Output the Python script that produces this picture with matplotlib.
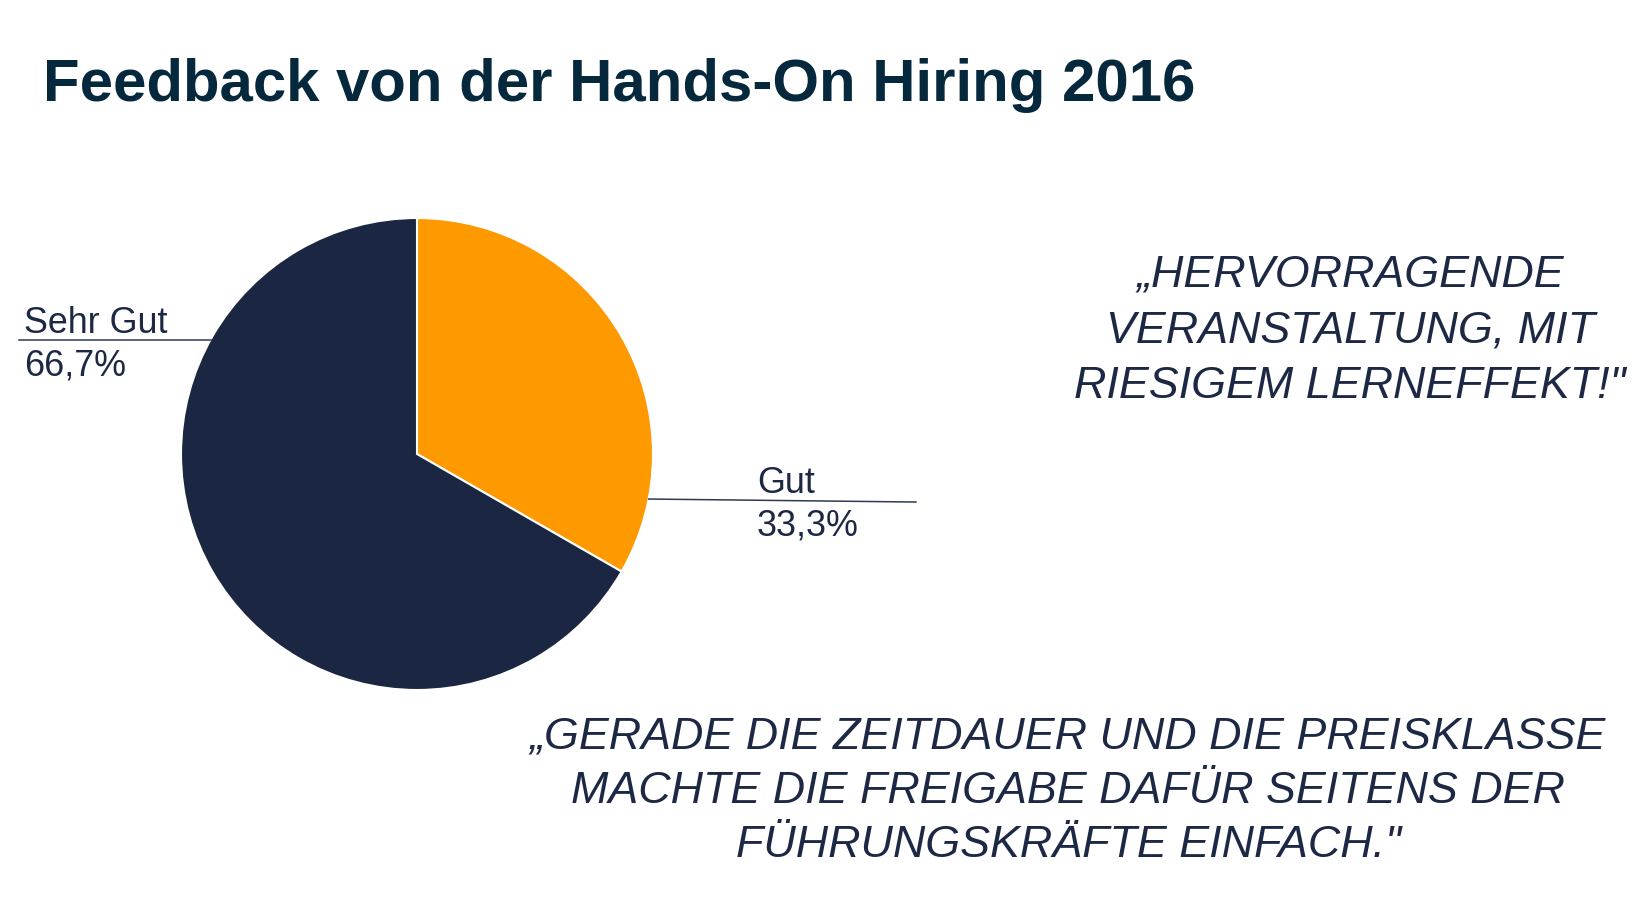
import numpy as np
import matplotlib
matplotlib.use('Agg')
import matplotlib.pyplot as plt

plt.rcParams['font.family'] = ['Liberation Sans', 'DejaVu Sans']

# Data
categories = ['Gut', 'Sehr Gut']
shares = [33.3, 66.7]
share_labels = ['33,3%', '66,7%']
colors = ['#FF9900', '#1B2742']

title = 'Feedback von der Hands-On Hiring 2016'
quote_1 = ['\u201eHERVORRAGENDE', 'VERANSTALTUNG, MIT', 'RIESIGEM LERNEFFEKT!"']
quote_2 = ['\u201eGERADE DIE ZEITDAUER UND DIE PREISKLASSE',
           'MACHTE DIE FREIGABE DAF\u00dcR SEITENS DER',
           'F\u00dcHRUNGSKR\u00c4FTE EINFACH."']

W, H = 1647, 898
fig = plt.figure(figsize=(W / 100, H / 100), dpi=100)
ax = fig.add_axes([0, 0, 1, 1])

# pie geometry in pixel units (y measured from bottom)
cx, cy, r = 417, 444, 236
ax.pie(shares, colors=colors, startangle=90, counterclock=False,
       center=(cx, cy), radius=r,
       wedgeprops={'edgecolor': 'white', 'linewidth': 1.5})
ax.set_xlim(0, W)
ax.set_ylim(0, H)
ax.set_aspect('equal')
ax.axis('off')

text_col = '#1C2844'

# leader lines and labels
label_specs = {
    # category: (angle on pie edge, line end x, line end y offset, text x, baseline of first line)
    'Sehr Gut': (151, 19, 0, 24, 565),
    'Gut': (-11, 916, -3, 757, 405),
}
for cat, lab in zip(categories, share_labels):
    ang, x_end, dy, tx, ty = label_specs[cat]
    a = np.deg2rad(ang)
    x0, y0 = cx + r * np.cos(a), cy + r * np.sin(a)
    ax.plot([x0, x_end], [y0, y0 + dy], color='#2E3A55', lw=1.1)
    ax.text(tx, ty, cat, fontsize=25.8, color=text_col, va='baseline', ha='left')
    ax.text(tx, ty - 42, lab, fontsize=25.8, color=text_col, va='baseline', ha='left')

# title
ax.text(43, H - 101, title, fontsize=43.1, fontweight='bold', color='#06283D',
        va='baseline', ha='left')

# quotes
for i, line in enumerate(quote_1):
    ax.text(1350, H - 286 - 56 * i, line, fontsize=32.3, style='italic',
            color=text_col, va='baseline', ha='center')
for i, line in enumerate(quote_2):
    ax.text(1068, H - 749 - 54 * i, line, fontsize=32.3, style='italic',
            color=text_col, va='baseline', ha='center')

fig.savefig('out.png', dpi=100, facecolor='white')
